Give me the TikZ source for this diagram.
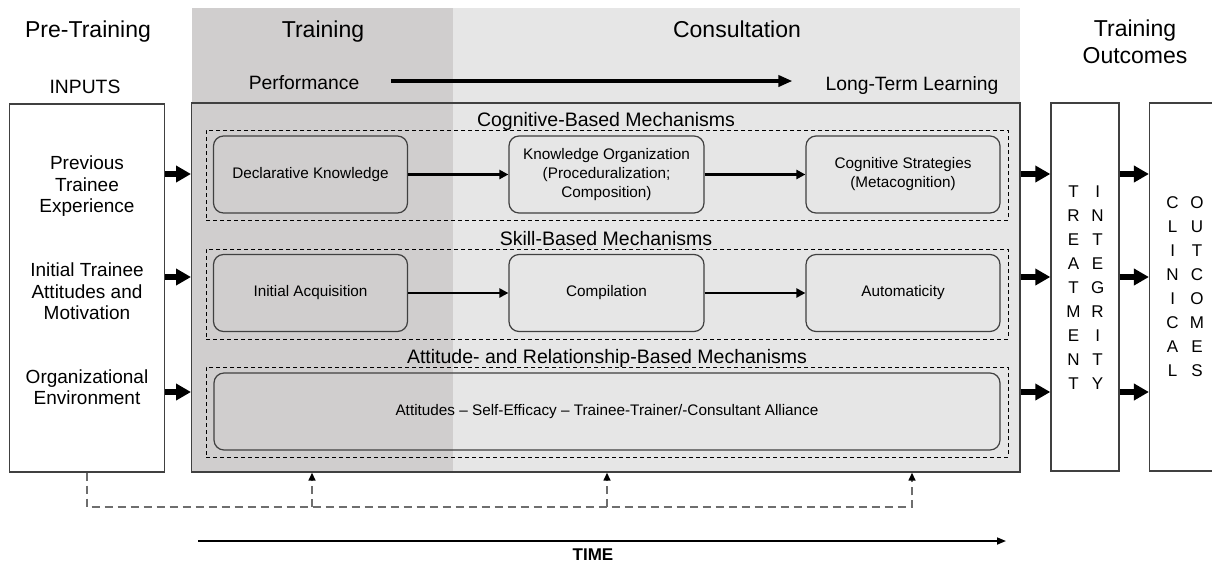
\documentclass[tikz,border=0pt]{standalone}
\usepackage{fontspec}
\setmainfont{Liberation Sans}
\usepackage{tikz}
\usetikzlibrary{arrows.meta}
\definecolor{trainshade}{RGB}{208,206,206}
\definecolor{consshade}{RGB}{230,230,230}
\definecolor{boxline}{RGB}{64,64,64}
\definecolor{feedgray}{RGB}{110,110,110}
\newcommand{\setsz}[2]{\fontsize{#1}{#2}\selectfont}
\begin{document}
\begin{tikzpicture}[x=1pt,y=-1pt,
		title/.style={font=\setsz{23}{27},inner sep=0pt,anchor=base},
		sub/.style={font=\setsz{19.3}{21.5},inner sep=0pt,anchor=base},
		input/.style={font=\setsz{19}{21.5},inner sep=0pt,align=center},
		header/.style={font=\setsz{19.5}{22},inner sep=0pt,anchor=base},
		mechbox/.style={draw=boxline,line width=1.2pt,rounded corners=10pt,minimum height=77pt,font=\setsz{15.3}{19},align=center,inner sep=0pt},
		groupbox/.style={draw,dash pattern=on 4pt off 3pt,line width=0.9pt,minimum width=802pt,minimum height=90pt,inner sep=0pt},
		outbox/.style={draw=boxline,line width=1.4pt,fill=white,inner sep=0pt},
		letters/.style={font=\setsz{17}{24},align=center,inner sep=0pt},
		bigarrow/.style={line width=6pt,-{Triangle[length=15pt,width=16pt]}},
		boxarrow/.style={line width=2.5pt,-{Triangle[length=9pt,width=9pt]}},
		perfarrow/.style={line width=3.5pt,-{Triangle[length=14pt,width=11pt]}},
		timearrow/.style={line width=1.6pt,-{Triangle[length=9pt,width=7pt]}},
		fbline/.style={draw=feedgray,line width=1.5pt,dash pattern=on 8pt off 5pt},
		fbtip/.style={-{Triangle[length=8pt,width=7pt,color=black]}}]
			\useasboundingbox (0,0) rectangle (1212,563);
			\fill[trainshade] (191.7,8) rectangle (452.7,472);
			\fill[consshade] (452.7,8) rectangle (1020,472);

			\node[title] (pretr) at (88,37) {Pre-Training};
			\node[title] (train) at (323,37) {Training};
			\node[title] (consult) at (737,37) {Consultation};
			\node[title,anchor=center,align=center] (outc) at (1135,42) {Training\\Outcomes};

			\node[sub] (inp) at (85,93) {INPUTS};
			\node[sub] (perf) at (304,89) {Performance};
			\node[sub] (ltl) at (912,90) {Long-Term Learning};
			\coordinate (pa) at (0,81);
			\draw[perfarrow,shorten <=32pt,shorten >=33pt] (perf.east |- pa) -- (ltl.west |- pa);

			\node[outbox,minimum width=155pt,minimum height=368pt] (inputs) at (87,288) {};
			\node[draw=boxline,line width=1.4pt,minimum width=828.3pt,minimum height=369pt,inner sep=0pt] (mech) at (605.85,287.5) {};
			\node[outbox,minimum width=68pt,minimum height=368pt] (treat) at (1085,287) {};
			\node[outbox,minimum width=80pt,minimum height=368pt] (clin) at (1189.6,287) {};

			\node[input] (prev) at (87,186.5) {Previous\\Trainee\\Experience};
			\node[input] (attit) at (87,291.5) {Initial Trainee\\Attitudes and\\Motivation};
			\node[input] (orgenv) at (87,387) {Organizational\\Environment};

			\node[groupbox] (gcog) at (607,175) {};
			\node[groupbox] (gskill) at (607,294) {};
			\node[groupbox] (gatt) at (607,412) {};
			\node[header] (hcog) at (606,126) {Cognitive-Based Mechanisms};
			\node[header] (hskill) at (606,245) {Skill-Based Mechanisms};
			\node[header] (hatt) at (607,363) {Attitude- and Relationship-Based Mechanisms};

			\node[mechbox,minimum width=194pt] (declk) at (310.5,174.5) {Declarative Knowledge};
			\node[mechbox,minimum width=195pt] (korg) at (606.5,174.5) {Knowledge Organization\\(Proceduralization;\\Composition)};
			\node[mechbox,minimum width=194pt] (cstrat) at (903,174.5) {Cognitive Strategies\\(Metacognition)};
			\node[mechbox,minimum width=194pt] (iacq) at (310.5,293) {Initial Acquisition};
			\node[mechbox,minimum width=195pt] (compil) at (606.5,293) {Compilation};
			\node[mechbox,minimum width=194pt] (autom) at (903,293) {Automaticity};
			\node[mechbox,minimum width=786pt] (attbox) at (607,411.5) {Attitudes – Self-Efficacy – Trainee-Trainer/-Consultant Alliance};

			\draw[boxarrow] (declk) -- (korg);
			\draw[boxarrow] (korg) -- (cstrat);
			\draw[boxarrow] (iacq) -- (compil);
			\draw[boxarrow] (compil) -- (autom);

			\coordinate (r1) at (0,174);
			\coordinate (r2) at (0,277);
			\coordinate (r3) at (0,392);
			\draw[bigarrow] (inputs.east |- r1) -- (mech.west |- r1);
			\draw[bigarrow] (inputs.east |- r2) -- (mech.west |- r2);
			\draw[bigarrow] (inputs.east |- r3) -- (mech.west |- r3);
			\draw[bigarrow] (mech.east |- r1) -- (treat.west |- r1);
			\draw[bigarrow] (mech.east |- r2) -- (treat.west |- r2);
			\draw[bigarrow] (mech.east |- r3) -- (treat.west |- r3);
			\draw[bigarrow] (treat.east |- r1) -- (clin.west |- r1);
			\draw[bigarrow] (treat.east |- r2) -- (clin.west |- r2);
			\draw[bigarrow] (treat.east |- r3) -- (clin.west |- r3);

			\node[letters] (treatl) at (1073.5,287.5) {T\\R\\E\\A\\T\\M\\E\\N\\T};
			\node[letters] (integl) at (1097.6,287.5) {I\\N\\T\\E\\G\\R\\I\\T\\Y};
			\node[letters] (clinl) at (1172.6,286.5) {C\\L\\I\\N\\I\\C\\A\\L};
			\node[letters] (outcl) at (1197,286.5) {O\\U\\T\\C\\O\\M\\E\\S};

			\coordinate (fb1) at (312,507);
			\coordinate (fb2) at (607,507);
			\coordinate (fb3) at (912,507);
			\draw[fbline,fbtip] (inputs.south) |- (fb3) -- (fb3 |- mech.south);
			\draw[fbline,fbtip] (fb1) -- (fb1 |- mech.south);
			\draw[fbline,fbtip] (fb2) -- (fb2 |- mech.south);

			\coordinate (t0) at (198,541);
			\coordinate (t1) at (1006,541);
			\draw[timearrow] (t0) -- (t1);
			\node[font=\bfseries\setsz{17}{20},anchor=base,inner sep=0pt] (timel) at (593,560) {TIME};
		\end{tikzpicture}
\end{document}
